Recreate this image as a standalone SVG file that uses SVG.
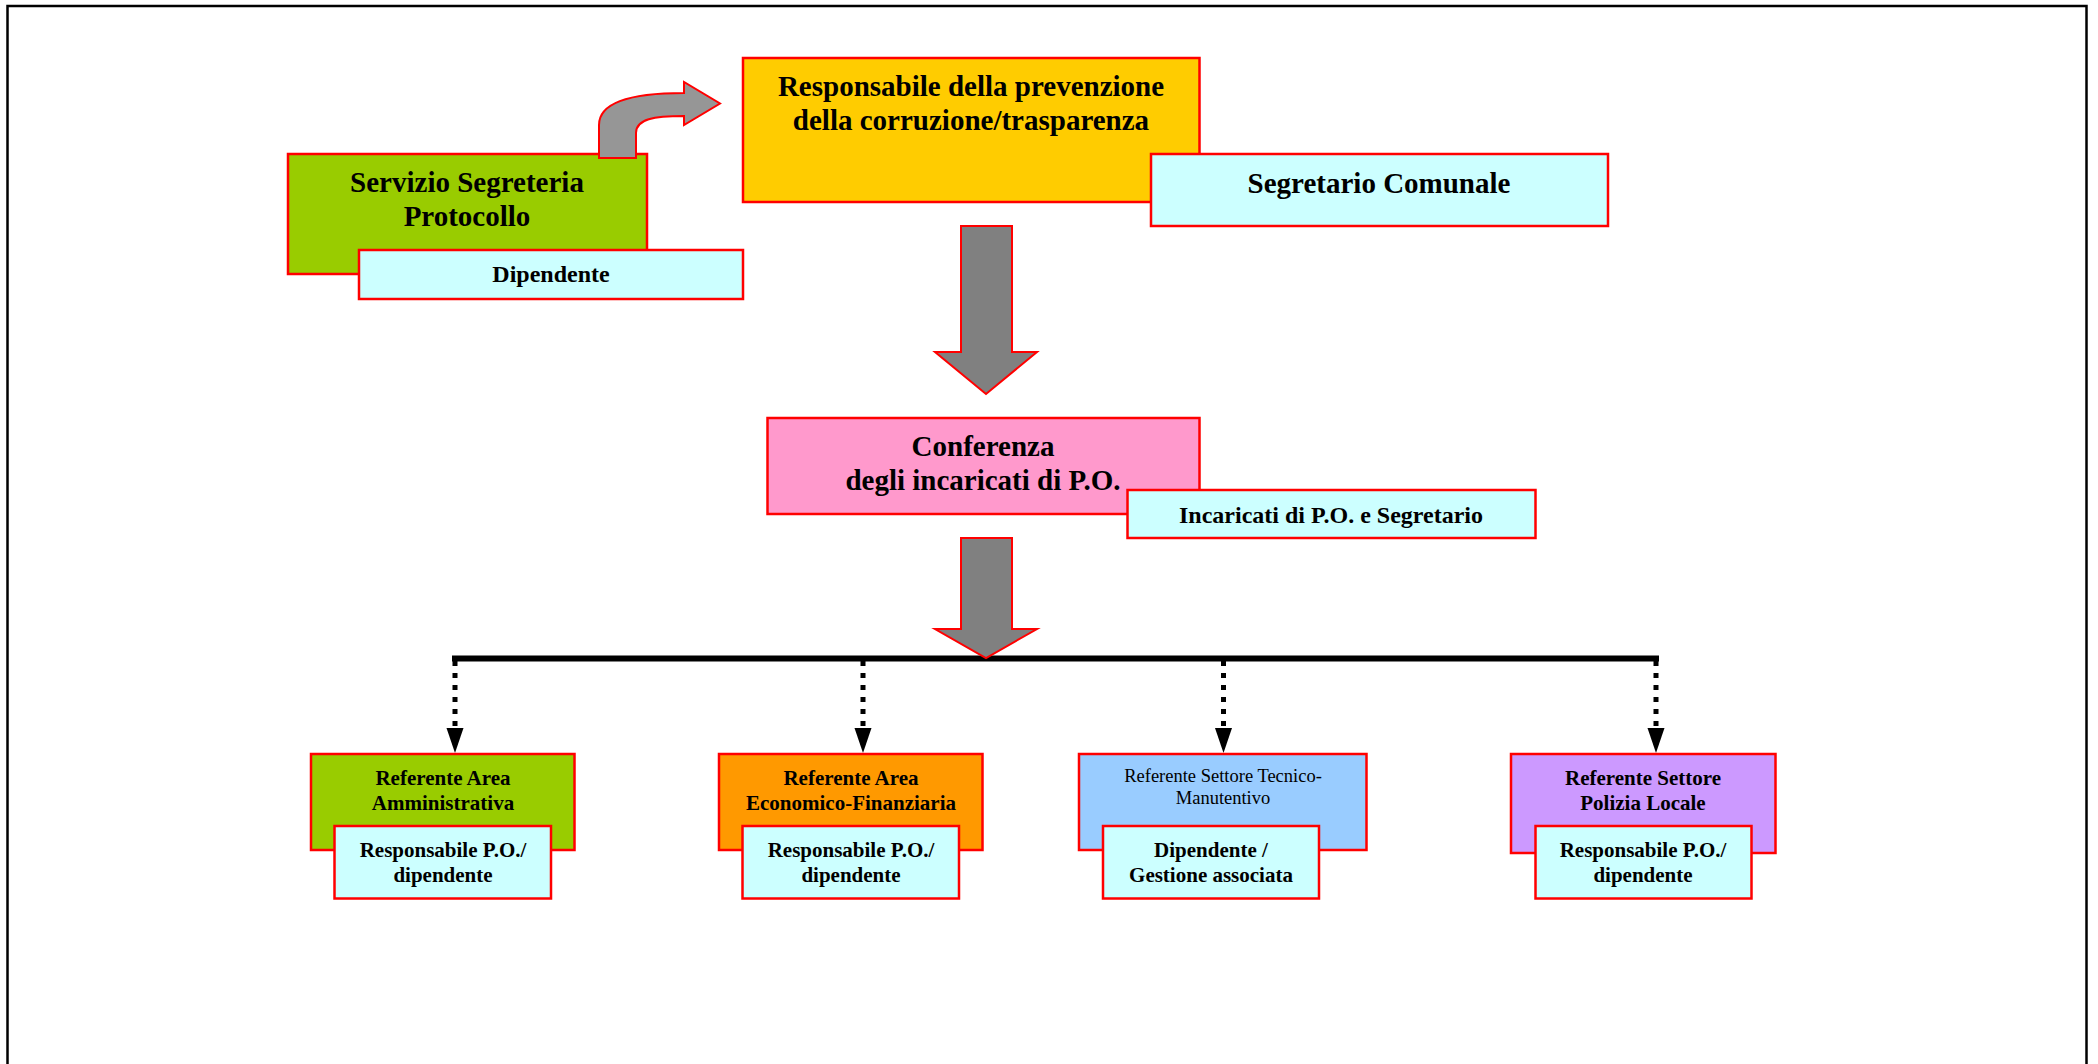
<svg xmlns="http://www.w3.org/2000/svg" width="2098" height="1064" viewBox="0 0 2098 1064">
<defs>
<style>
.box{stroke:#FF0000;stroke-width:2.5}
.cy{fill:#CCFFFF}
.t{font-family:"Liberation Serif","Times New Roman",serif;font-weight:bold;fill:#000;text-anchor:middle}
.big{font-size:29px}
.mid{font-size:24px}
.sm{font-size:21px}
.reg{font-family:"Liberation Serif","Times New Roman",serif;font-weight:normal;font-size:18.5px;fill:#000;text-anchor:middle}
.arr{stroke:#FF0000;stroke-width:2;stroke-linejoin:miter}
.dash{stroke:#000;stroke-width:5;stroke-dasharray:5 7;fill:none}
</style>
</defs>
<rect x="7.5" y="6" width="2079" height="1100" fill="#FFFFFF" stroke="#000" stroke-width="2.5"/>

<g id="servizio">
<rect class="box" x="288" y="154" width="359" height="120" fill="#99CC00"/>
<text class="t big" x="467" y="192">Servizio Segreteria</text>
<text class="t big" x="467" y="226">Protocollo</text>
</g>
<g id="dipendente">
<rect class="box cy" x="359" y="250" width="384" height="49"/>
<text class="t mid" x="551" y="282">Dipendente</text>
</g>
<g id="responsabile">
<rect class="box" x="743" y="58" width="456.5" height="144" fill="#FFCC00"/>
<text class="t big" x="971" y="96">Responsabile della prevenzione</text>
<text class="t big" x="971" y="130">della corruzione/trasparenza</text>
</g>
<g id="segretario">
<rect class="box cy" x="1151" y="154" width="457" height="72"/>
<text class="t big" x="1379" y="193">Segretario Comunale</text>
</g>
<g id="conferenza">
<rect class="box" x="767.5" y="418" width="432" height="96" fill="#FF99CC"/>
<text class="t big" x="983" y="456">Conferenza</text>
<text class="t big" x="983" y="490">degli incaricati di P.O.</text>
</g>
<g id="incaricati">
<rect class="box cy" x="1127.5" y="490" width="408" height="48"/>
<text class="t mid" x="1331" y="523">Incaricati di P.O. e Segretario</text>
</g>

<g id="connectors">
<path class="arr" fill="#969696" d="M599,158 L599,125 C599,101 634,93 684,93 L684,82 L720,103.5 L684,125 L684,116 C654,116 636,119 636,133 L636,158 Z"/>
<path class="arr" fill="#808080" d="M961,226 L1012,226 L1012,352 L1037,352 L986,394 L935,352 L961,352 Z"/>
<line x1="452" y1="658.5" x2="1659" y2="658.5" stroke="#000" stroke-width="6"/>
<path class="arr" fill="#808080" d="M961,538 L1012,538 L1012,629 L1037,629 L986,658 L935,629 L961,629 Z"/>
<line class="dash" x1="455" y1="661" x2="455" y2="729"/>
<line class="dash" x1="863" y1="661" x2="863" y2="729"/>
<line class="dash" x1="1223.5" y1="661" x2="1223.5" y2="729"/>
<line class="dash" x1="1656" y1="661" x2="1656" y2="729"/>
<polygon points="446.5,728 463.5,728 455,753" fill="#000"/>
<polygon points="854.5,728 871.5,728 863,753" fill="#000"/>
<polygon points="1215,728 1232,728 1223.5,753" fill="#000"/>
<polygon points="1647.5,728 1664.5,728 1656,753" fill="#000"/>
</g>

<g id="ref-amministrativa">
<rect class="box" x="311" y="754" width="263.5" height="96" fill="#99CC00"/>
<text class="t sm" x="443" y="785">Referente Area</text>
<text class="t sm" x="443" y="810">Amministrativa</text>
</g>
<g id="resp-amministrativa">
<rect class="box cy" x="334.5" y="826" width="216.5" height="72.5"/>
<text class="t sm" x="443" y="857">Responsabile P.O./</text>
<text class="t sm" x="443" y="881.5">dipendente</text>
</g>
<g id="ref-economico">
<rect class="box" x="719" y="754" width="263.5" height="96" fill="#FF9900"/>
<text class="t sm" x="851" y="785">Referente Area</text>
<text class="t sm" x="851" y="810">Economico-Finanziaria</text>
</g>
<g id="resp-economico">
<rect class="box cy" x="742.5" y="826" width="216.5" height="72.5"/>
<text class="t sm" x="851" y="857">Responsabile P.O./</text>
<text class="t sm" x="851" y="881.5">dipendente</text>
</g>
<g id="ref-tecnico">
<rect class="box" x="1079" y="754" width="287.5" height="96" fill="#99CCFF"/>
<text class="reg" x="1223" y="781.5">Referente Settore Tecnico-</text>
<text class="reg" x="1223" y="803.5">Manutentivo</text>
</g>
<g id="resp-tecnico">
<rect class="box cy" x="1103" y="826" width="216" height="72.5"/>
<text class="t sm" x="1211" y="857">Dipendente /</text>
<text class="t sm" x="1211" y="881.5">Gestione associata</text>
</g>
<g id="ref-polizia">
<rect class="box" x="1511" y="754" width="264.5" height="99" fill="#CC99FF"/>
<text class="t sm" x="1643" y="785">Referente Settore</text>
<text class="t sm" x="1643" y="810">Polizia Locale</text>
</g>
<g id="resp-polizia">
<rect class="box cy" x="1535.5" y="826" width="216" height="72.5"/>
<text class="t sm" x="1643" y="857">Responsabile P.O./</text>
<text class="t sm" x="1643" y="881.5">dipendente</text>
</g>
</svg>
